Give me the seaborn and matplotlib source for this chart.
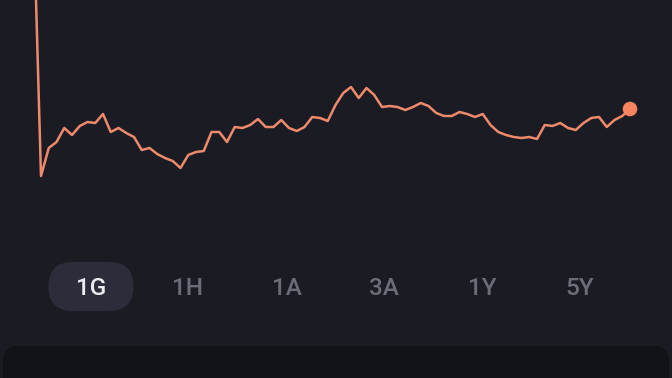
import matplotlib
matplotlib.use("Agg")
import matplotlib.pyplot as plt
import seaborn as sns
import pandas as pd
from matplotlib.patches import FancyBboxPatch

# ---- data ----
prices = [297, 24, 52, 58, 72, 65, 74, 78, 77, 86, 68, 72, 67, 63, 50, 52, 46, 42,
          39, 32, 45, 48, 49, 68, 68, 58, 73, 72, 75, 81, 73, 73, 80, 72, 69, 73,
          83, 82, 79, 95, 107, 113, 102, 112, 105, 93, 94, 93, 90, 93, 97, 94, 87,
          84, 84, 88, 86, 83, 86, 75, 68, 65, 63, 62, 63, 61, 75, 74, 77, 72, 70,
          77, 82, 83, 73, 80, 84, 91]
steps = list(range(len(prices)))
periods = ["1G", "1H", "1A", "3A", "1Y", "5Y"]
selected = "1G"

df = pd.DataFrame({"step": steps, "price": prices})

BG = "#1b1b24"
LINE = "#ee8a6c"
DOT = "#f6845e"

sns.set_theme(style="dark")
plt.rcParams["font.family"] = ["Roboto", "DejaVu Sans"]

W, H = 672, 378
fig = plt.figure(figsize=(W / 100, H / 100), dpi=100)
fig.patch.set_facecolor(BG)

# chart axes: top 240 px of the figure
ax = fig.add_axes([0, (H - 240) / H, 1, 240 / H])
ax.set_facecolor(BG)
sns.lineplot(data=df, x="step", y="price", ax=ax, color=LINE, linewidth=1.8)
last = df.iloc[[-1]]
sns.scatterplot(data=last, x="step", y="price", ax=ax, color=DOT, s=110,
                edgecolor="none", zorder=5)
x0, dx = 33.25, 7.75
ax.set_xlim(-x0 / dx, (W - x0) / dx)
ax.set_ylim(-40, 200)
ax.set_axis_off()

# overlay in pixel coordinates for the period selector and bottom panel
ov = fig.add_axes([0, 0, 1, 1], zorder=-1)
ov.set_xlim(0, W)
ov.set_ylim(H, 0)
ov.set_axis_off()
ov.patch.set_alpha(0)

centers = [91, 188, 287, 384, 482, 580]
for lab, cx in zip(periods, centers):
    if lab == selected:
        ov.add_patch(FancyBboxPatch((cx - 42.5, 262), 85, 49,
                                    boxstyle="round,pad=0,rounding_size=24.5",
                                    facecolor="#2b2e3a", edgecolor="none"))
        ov.text(cx, 288.5, lab, ha="center", va="center", fontsize=17.5,
                color="#ececf0", fontweight="medium")
    else:
        ov.text(cx, 288.5, lab, ha="center", va="center", fontsize=17.5,
                color="#6b6d78", fontweight="medium")

ov.add_patch(FancyBboxPatch((3, 346), 666, 60,
                            boxstyle="round,pad=0,rounding_size=14",
                            facecolor="#121318", edgecolor="none"))

fig.savefig("out.png", dpi=100, facecolor=BG)
